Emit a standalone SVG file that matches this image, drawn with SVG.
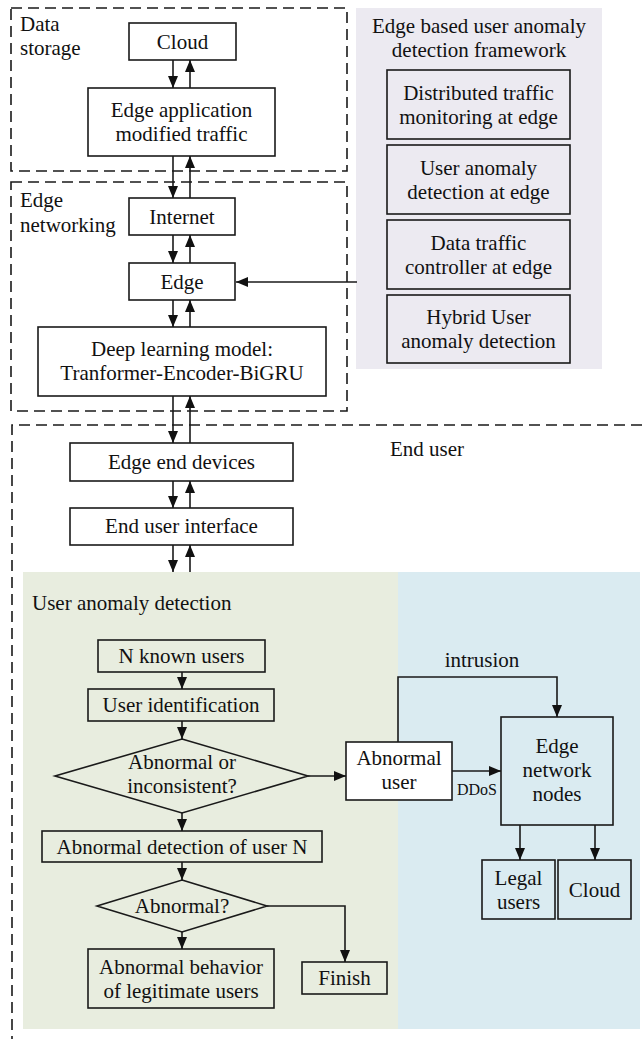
<svg xmlns="http://www.w3.org/2000/svg" width="642" height="1039" viewBox="0 0 642 1039">
<style>
text{font-family:"Liberation Serif","Times New Roman",serif;font-size:21px;fill:#111;}
.c{text-anchor:middle;}
.box{fill:none;stroke:#1a1a1a;stroke-width:1.6;}
.wbox{fill:#fff;stroke:#1a1a1a;stroke-width:1.6;}
.dash{fill:none;stroke:#1a1a1a;stroke-width:1.6;stroke-dasharray:11 6;}
.ln{fill:none;stroke:#1a1a1a;stroke-width:1.6;}
.ar{fill:none;stroke:#1a1a1a;stroke-width:1.6;marker-end:url(#ah);}
.small{font-size:16px;}
</style>
<defs>
<marker id="ah" viewBox="0 0 12 10" refX="12" refY="5" markerWidth="12" markerHeight="10" markerUnits="userSpaceOnUse" orient="auto">
<path d="M0,0 L12,5 L0,10 z" fill="#111"/>
</marker>
</defs>

<!-- background panels -->
<g id="framework-panel">
<rect x="356" y="8" width="246" height="361" fill="#ECEAF1"/>
<text class="c" x="479" y="33">Edge based user anomaly</text>
<text class="c" x="479" y="57">detection framework</text>
</g>
<g id="uad-panel">
<rect x="23" y="572" width="375" height="457" fill="#E8EDDF"/>
<text x="32" y="610">User anomaly detection</text>
</g>
<g id="attack-panel">
<rect x="398" y="572" width="242" height="457" fill="#DAEBF1"/>
</g>

<!-- dashed regions -->
<g id="data-storage">
<rect class="dash" x="11" y="8" width="336" height="163"/>
<text x="20" y="31">Data</text>
<text x="20" y="55">storage</text>
</g>
<g id="edge-networking">
<rect class="dash" x="11" y="182" width="336" height="229"/>
<text x="20" y="207">Edge</text>
<text x="20" y="232">networking</text>
</g>
<g id="end-user">
<path class="dash" d="M642,425 H12 V1039"/>
<text x="390" y="456">End user</text>
</g>

<!-- nodes -->
<g id="cloud-top"><rect class="box" x="129" y="23" width="107" height="37"/><text class="c" x="182.5" y="48.5">Cloud</text></g>
<g id="edge-app"><rect class="box" x="88" y="88" width="187" height="68"/><text class="c" x="181.5" y="117">Edge application</text><text class="c" x="181.5" y="141">modified traffic</text></g>
<g id="internet"><rect class="box" x="129" y="198" width="106" height="37"/><text class="c" x="182" y="224">Internet</text></g>
<g id="edge"><rect class="box" x="129" y="263" width="106" height="37"/><text class="c" x="182" y="289">Edge</text></g>
<g id="deep-model"><rect class="box" x="38" y="327" width="288" height="69"/><text class="c" x="182" y="356">Deep learning model:</text><text class="c" x="182" y="380">Tranformer-Encoder-BiGRU</text></g>

<g id="fw1"><rect class="box" x="387" y="70" width="183" height="69"/><text class="c" x="478.5" y="99.5">Distributed traffic</text><text class="c" x="478.5" y="123.5">monitoring at edge</text></g>
<g id="fw2"><rect class="box" x="387" y="145" width="183" height="69"/><text class="c" x="478.5" y="174.5">User anomaly</text><text class="c" x="478.5" y="198.5">detection at edge</text></g>
<g id="fw3"><rect class="box" x="387" y="220" width="183" height="69"/><text class="c" x="478.5" y="249.5">Data traffic</text><text class="c" x="478.5" y="273.5">controller at edge</text></g>
<g id="fw4"><rect class="box" x="387" y="295" width="183" height="68"/><text class="c" x="478.5" y="324">Hybrid User</text><text class="c" x="478.5" y="348">anomaly detection</text></g>

<g id="edge-end-devices"><rect class="box" x="70" y="443" width="223" height="38"/><text class="c" x="181.5" y="468.5">Edge end devices</text></g>
<g id="end-user-interface"><rect class="box" x="70" y="508" width="223" height="37"/><text class="c" x="181.5" y="533">End user interface</text></g>

<g id="n-known"><rect class="box" x="98" y="640" width="167" height="32"/><text class="c" x="181.5" y="663">N known users</text></g>
<g id="user-id"><rect class="box" x="88" y="689" width="186" height="32"/><text class="c" x="181" y="712">User identification</text></g>
<g id="decision1"><polygon class="box" points="182,739 308,776 182,813 55,776"/><text class="c" x="182" y="769">Abnormal or</text><text class="c" x="182" y="793">inconsistent?</text></g>
<g id="abn-detect"><rect class="box" x="42" y="831" width="280" height="31"/><text class="c" x="182" y="853.5">Abnormal detection of user N</text></g>
<g id="decision2"><polygon class="box" points="182,880 267,906 182,932 97,906"/><text class="c" x="182" y="913">Abnormal?</text></g>
<g id="abn-behavior"><rect class="box" x="88" y="949" width="186" height="59"/><text class="c" x="181" y="973.5">Abnormal behavior</text><text class="c" x="181" y="997.5">of legitimate users</text></g>
<g id="finish"><rect class="box" x="302" y="962" width="85" height="32"/><text class="c" x="344.5" y="985">Finish</text></g>

<g id="abnormal-user"><rect class="wbox" x="346" y="742" width="106" height="58"/><text class="c" x="399" y="765">Abnormal</text><text class="c" x="399" y="789">user</text></g>
<g id="edge-nodes"><rect class="box" x="501" y="717" width="112" height="108"/><text class="c" x="557" y="753">Edge</text><text class="c" x="557" y="777">network</text><text class="c" x="557" y="801">nodes</text></g>
<g id="legal-users"><rect class="box" x="482" y="860" width="73" height="59"/><text class="c" x="518.5" y="884.5">Legal</text><text class="c" x="518.5" y="908.5">users</text></g>
<g id="cloud-bottom"><rect class="box" x="558" y="860" width="73" height="59"/><text class="c" x="594.5" y="896.5">Cloud</text></g>

<!-- connectors -->
<g id="connectors">
<path class="ar" d="M173,60 V88"/><path class="ar" d="M190,88 V60"/>
<path class="ar" d="M173,156 V198"/><path class="ar" d="M190,198 V156"/>
<path class="ar" d="M173,235 V263"/><path class="ar" d="M190,263 V235"/>
<path class="ar" d="M173,300 V327"/><path class="ar" d="M190,327 V300"/>
<path class="ar" d="M173,396 V443"/><path class="ar" d="M190,443 V396"/>
<path class="ar" d="M173,481 V508"/><path class="ar" d="M190,508 V481"/>
<path class="ar" d="M173,545 V572"/><path class="ar" d="M190,572 V545"/>
<path class="ar" d="M357,282 H236"/>
<path class="ar" d="M182,672 V689"/>
<path class="ar" d="M182,721 V739"/>
<path class="ar" d="M308,776 H346"/>
<path class="ar" d="M182,813 V831"/>
<path class="ar" d="M182,862 V880"/>
<path class="ar" d="M182,932 V949"/>
<path class="ar" d="M267,906 H345 V962"/>
<path class="ar" d="M398,742 V677 H557 V717"/>
<text class="c" x="482" y="667">intrusion</text>
<path class="ar" d="M452,771 H501"/>
<text class="small" x="457" y="795">DDoS</text>
<path class="ar" d="M520,825 V860"/>
<path class="ar" d="M595,825 V860"/>
</g>
</svg>
